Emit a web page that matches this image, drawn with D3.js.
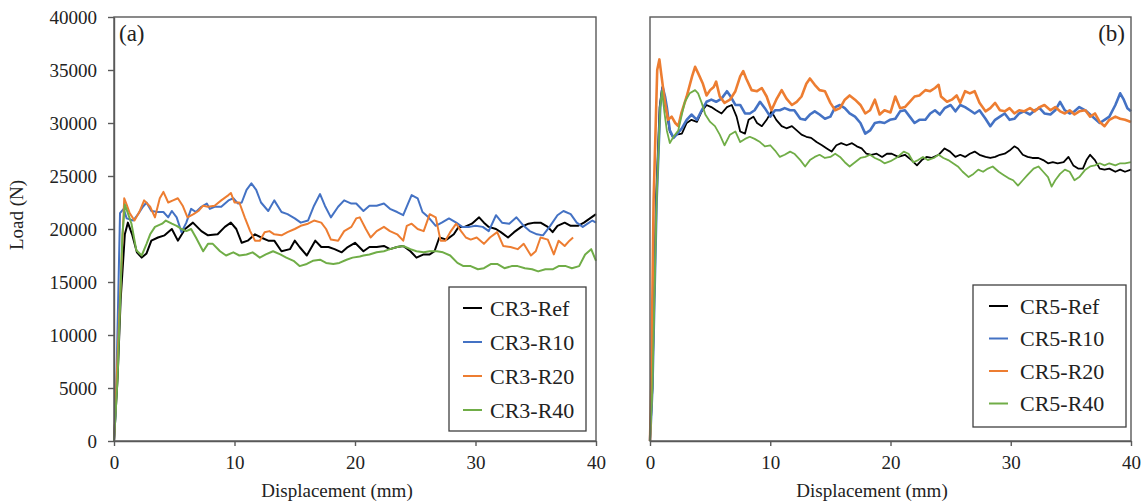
<!DOCTYPE html>
<html>
<head>
<meta charset="utf-8">
<script src="https://cdn.jsdelivr.net/npm/d3@7"></script>
<style>
  body { margin: 0; background: #fff; }
  svg { display: block; font-family: "Liberation Serif", "Times New Roman", serif; }
  .axis path, .axis line { stroke: #595959; stroke-width: 1.4; }
  .axis text { fill: #222; font-size: 19px; font-family: "Liberation Serif", "Times New Roman", serif; }
</style>
</head>
<body>
<div id="chart"></div>
<script>
// [displacement (mm), load (N)]
var cr3Ref = [[0,0],[0.3,6000],[0.55,13300],[0.9,19500],[1.15,20600],[1.5,19500],[1.9,17800],[2.3,17300],[2.7,17700],[3.1,18900],[3.65,19200],[4.2,19400],[4.8,20000],[5.3,18900],[5.9,20000],[6.55,20600],[7.25,19800],[7.8,19400],[8.6,19500],[9.2,20200],[9.7,20600],[10.15,20000],[10.6,18700],[11.1,18900],[11.7,19500],[12.2,19200],[12.8,18900],[13.3,18900],[13.9,17900],[14.6,18100],[15,18900],[15.4,18300],[16,17500],[16.7,18900],[17.2,18300],[17.8,18300],[18.3,18100],[18.9,17800],[19.4,18300],[20,18700],[20.7,17900],[21.2,18300],[21.8,18300],[22.4,18400],[22.9,18100],[23.5,18300],[24,18400],[24.6,17900],[25.1,17300],[25.7,17600],[26.2,17600],[26.6,17900],[27,19200],[27.6,19000],[28.2,19500],[28.6,20200],[29.1,20200],[29.7,20500],[30.3,21100],[30.7,20600],[31.1,20200],[31.7,20000],[32.1,19700],[32.7,19200],[33.2,19700],[33.8,20200],[34.4,20500],[34.9,20600],[35.4,20600],[36,20200],[36.4,19700],[36.8,20300],[37.4,20600],[37.9,20300],[38.5,20300],[39,20600],[39.5,21000],[40,21400]];
var cr3R10 = [[0,0],[0.15,3000],[0.5,21500],[0.8,21900],[1.05,21000],[1.6,20800],[2,21400],[2.4,22100],[2.7,22500],[3.1,21700],[3.65,21600],[4.1,21600],[4.5,21100],[4.8,21700],[5.2,21100],[5.6,19700],[6,20600],[6.4,21900],[6.8,21600],[7.25,22100],[7.7,22400],[7.95,21900],[8.35,22100],[8.9,22100],[9.5,22700],[9.9,22900],[10.3,22400],[10.6,22500],[11,23700],[11.4,24300],[11.8,23700],[12.2,22500],[12.8,21700],[13.3,22700],[13.9,21600],[14.4,21400],[15,21000],[15.5,20600],[16.1,20800],[16.6,22200],[17.1,23300],[17.5,22200],[18,21100],[18.6,22100],[19.1,22700],[19.7,22400],[20.1,22400],[20.7,21700],[21.2,22200],[21.8,22200],[22.4,22400],[22.9,21900],[23.5,21600],[24,21300],[24.4,22400],[24.7,23200],[25.2,22900],[25.6,21600],[26.1,21100],[26.7,20300],[27.2,20600],[27.8,21000],[28.4,20600],[28.9,20200],[29.5,20200],[30,20300],[30.6,20200],[31.1,19800],[31.7,21300],[32.2,20600],[32.8,20500],[33.4,21100],[34,20300],[34.5,19800],[35.1,19500],[35.6,19400],[36.2,20300],[36.8,21300],[37.3,21700],[37.9,21400],[38.4,20600],[38.9,20200],[39.3,20500],[39.7,20800],[40,20600]];
var cr3R20 = [[0,0],[0.3,8000],[0.85,22900],[1.05,22300],[1.3,21500],[1.7,20800],[2.1,21600],[2.5,22700],[3,22100],[3.4,21100],[3.8,22900],[4.1,23500],[4.5,22500],[4.9,22700],[5.3,22900],[5.7,22200],[6.1,21100],[6.6,21400],[7,21700],[7.4,22200],[7.8,22100],[8.35,22200],[8.9,22700],[9.5,23200],[9.7,23400],[10,22500],[10.4,22500],[10.85,21100],[11.3,19800],[11.7,18900],[12.1,18900],[12.5,19700],[12.9,19800],[13.3,19500],[13.9,19400],[14.4,19700],[15,20000],[15.5,20300],[16.1,20500],[16.6,20800],[17.2,20600],[17.6,20000],[18,19000],[18.6,18900],[19.1,19800],[19.7,20200],[20.1,21000],[20.4,21100],[20.9,20000],[21.3,19200],[21.8,19800],[22.4,20200],[22.9,19800],[23.5,19500],[24,18900],[24.3,20300],[24.7,20500],[25.2,20000],[25.7,19800],[26.2,21400],[26.7,21100],[27.1,18900],[27.5,18900],[27.9,19700],[28.4,20500],[28.8,19800],[29.2,19200],[29.6,19000],[30.1,19200],[30.7,18600],[31.2,19200],[31.8,19700],[32.3,18400],[32.9,18300],[33.5,18100],[34,18600],[34.6,17500],[35,17900],[35.4,19200],[36,19000],[36.5,17600],[36.9,18900],[37.4,18400],[37.8,18900],[38.1,19200]];
var cr3R40 = [[0,0],[0.3,6000],[0.7,19500],[0.9,22300],[1.15,21500],[1.45,20500],[1.85,18000],[2.3,17500],[2.7,18600],[3,19500],[3.4,20200],[4,20500],[4.3,20800],[4.8,20500],[5.2,20300],[5.6,20000],[6,19800],[6.4,20000],[6.8,19200],[7.4,17900],[7.8,18600],[8.2,18600],[8.8,17900],[9.3,17500],[9.9,17800],[10.4,17500],[11,17600],[11.5,17800],[12.1,17300],[12.6,17600],[13.2,17900],[13.8,17600],[14.3,17300],[14.9,17000],[15.4,16500],[16,16700],[16.5,17000],[17.1,17100],[17.6,16800],[18.2,16700],[18.7,16800],[19.3,17100],[19.8,17300],[20.4,17400],[20.7,17500],[21.2,17600],[21.8,17800],[22.4,17900],[22.9,18100],[23.5,18300],[24,18400],[24.6,18100],[25.1,17900],[25.7,17800],[26.2,17900],[26.8,17900],[27.3,17800],[27.9,17500],[28.5,16800],[29,16500],[29.6,16500],[30.2,16200],[30.7,16300],[31.3,16700],[31.8,16700],[32.4,16300],[33,16500],[33.5,16500],[34.1,16300],[34.7,16200],[35.2,16000],[35.8,16200],[36.4,16200],[36.9,16500],[37.5,16500],[38,16300],[38.6,16500],[39.1,17600],[39.6,18100],[40,17000]];

var cr5Ref = [[0,0],[0.2,5000],[0.5,22700],[0.8,31500],[1.0,33300],[1.2,32000],[1.4,30900],[1.65,29200],[1.95,28600],[2.2,28900],[2.65,29000],[3.05,30000],[3.45,30300],[3.9,30100],[4.3,31100],[4.7,31700],[5.1,31500],[5.5,31200],[5.95,30900],[6.4,31500],[6.8,31700],[7.2,30600],[7.5,29200],[7.9,29000],[8.2,30300],[8.6,30600],[8.9,30000],[9.3,29700],[9.7,30300],[10.1,31100],[10.5,30300],[10.95,29700],[11.35,29500],[11.8,29700],[12.2,29300],[12.6,28900],[13,28700],[13.4,28600],[13.85,28200],[14.3,27900],[14.7,27600],[15.1,27300],[15.5,27900],[15.9,28100],[16.35,27900],[16.8,28100],[17.2,27800],[17.6,27600],[18,27100],[18.4,27000],[18.85,27100],[19.3,26800],[19.7,27100],[20.1,27100],[20.65,26800],[21.2,27000],[21.75,26500],[22.2,26000],[22.6,26500],[23,26800],[23.4,26700],[24,27000],[24.5,27600],[24.95,27300],[25.4,26800],[25.8,27000],[26.2,26800],[26.6,27100],[27,27300],[27.4,27000],[27.9,26800],[28.3,26700],[28.7,26800],[29.1,27000],[29.5,27100],[29.9,27400],[30.3,27800],[30.6,27600],[31,27000],[31.4,26800],[31.8,26700],[32.3,26700],[32.7,26500],[33.1,26200],[33.5,26300],[33.9,26200],[34.4,26300],[34.8,26800],[35.2,26000],[35.6,25700],[36,25700],[36.3,26500],[36.6,27000],[37,26500],[37.4,25700],[37.8,25600],[38.2,25700],[38.7,25400],[39.1,25600],[39.5,25400],[40,25600]];
var cr5R10 = [[0,0],[0.2,5000],[0.55,22700],[0.85,31500],[1.05,33400],[1.25,32500],[1.4,31500],[1.65,29300],[1.95,28600],[2.2,28900],[2.65,29500],[3.05,30300],[3.45,30800],[3.9,30300],[4.3,31200],[4.7,32000],[5.1,32200],[5.5,32000],[5.95,32300],[6.4,33000],[6.65,32600],[7.1,31700],[7.5,31700],[7.9,30900],[8.3,30900],[8.7,31200],[9.15,32000],[9.55,31400],[10,30600],[10.4,31200],[10.8,31200],[11.2,31400],[11.65,31200],[12,31200],[12.5,30400],[12.9,30300],[13.3,30800],[13.7,31100],[14.1,30800],[14.55,30400],[15,30600],[15.4,31500],[15.8,31700],[16.2,31400],[16.6,30900],[17.05,30600],[17.5,30000],[17.9,29000],[18.3,29300],[18.7,30000],[19.1,30100],[19.5,30000],[19.95,30300],[20.4,30400],[20.8,31100],[21.2,31200],[21.6,30600],[22,30000],[22.4,30300],[22.9,30300],[23.3,30900],[23.7,31200],[24.1,30800],[24.5,31400],[25,31700],[25.4,31100],[25.8,31700],[26.2,31500],[26.6,31200],[27,30900],[27.4,31200],[27.9,30400],[28.3,29700],[28.7,30300],[29.1,30600],[29.5,30900],[29.9,30300],[30.3,30400],[30.7,30900],[31.1,31100],[31.6,30800],[32,31200],[32.4,31400],[32.8,30900],[33.3,30800],[33.7,31200],[34.1,32000],[34.5,31200],[34.9,30900],[35.3,31100],[35.7,31500],[36.2,31200],[36.6,30800],[37,30400],[37.4,30000],[37.8,30300],[38.2,30600],[38.7,31700],[39.1,32800],[39.4,32200],[39.7,31400],[40,31100]];
var cr5R20 = [[0,0],[0.1,5000],[0.3,22700],[0.6,35000],[0.78,36000],[0.95,34500],[1.25,31900],[1.5,30300],[1.8,30600],[2.1,30000],[2.35,29700],[2.6,30900],[3.05,32500],[3.5,34400],[3.75,35300],[4,34700],[4.4,33700],[4.7,32600],[5,33100],[5.3,33400],[5.5,33900],[5.8,32500],[6.2,31900],[6.65,32200],[7.1,33000],[7.5,34400],[7.75,34900],[8,34200],[8.45,33100],[8.9,33000],[9.3,33300],[9.7,32500],[10.1,31200],[10.5,32200],[10.95,33100],[11.35,32300],[11.8,31700],[12.2,32000],[12.6,32500],[13,33700],[13.3,34200],[13.7,33600],[14.1,33100],[14.55,33000],[15,31900],[15.4,31200],[15.8,31400],[16.2,32200],[16.6,32600],[17.05,32200],[17.5,31700],[17.9,30900],[18.3,31200],[18.7,32200],[19.1,30800],[19.5,31200],[20,31000],[20.4,32500],[20.8,31400],[21.2,31500],[21.6,32000],[22,32500],[22.4,32600],[22.9,33100],[23.3,33000],[23.7,33300],[24,33600],[24.2,32500],[24.7,32000],[25.1,32200],[25.5,32600],[25.8,31900],[26.2,33000],[26.6,32800],[27,33000],[27.4,31900],[27.9,31100],[28.3,31400],[28.7,31900],[29.1,31200],[29.5,31100],[29.9,31400],[30.3,30900],[30.7,31200],[31.1,31100],[31.6,31400],[32,31100],[32.4,31500],[32.8,31700],[33.3,31200],[33.7,31500],[34.1,31100],[34.5,30900],[34.9,31200],[35.3,30800],[35.7,31100],[36.2,31200],[36.6,30600],[37,30900],[37.4,30100],[37.8,29700],[38.2,30300],[38.7,30600],[39.1,30400],[39.5,30300],[40,30100]];
var cr5R40 = [[0,0],[0.2,5000],[0.55,22700],[0.85,31500],[1.0,33000],[1.2,31000],[1.4,29300],[1.65,28100],[1.95,28700],[2.35,29300],[2.65,30800],[2.9,32000],[3.3,32800],[3.75,33100],[4,32800],[4.3,31900],[4.6,30800],[5,30100],[5.4,29700],[5.8,28900],[6.2,27900],[6.65,28900],[7.1,29200],[7.5,28200],[7.9,28500],[8.3,28700],[8.7,28500],[9.15,28200],[9.55,27800],[10,27900],[10.4,27400],[10.8,26800],[11.2,27000],[11.65,27300],[12,27100],[12.5,26500],[12.9,25900],[13.3,26500],[13.7,26800],[14.1,27000],[14.55,26700],[15,26800],[15.4,27100],[15.8,26800],[16.2,26300],[16.6,25900],[17.05,26300],[17.5,26700],[17.9,26800],[18.3,27000],[18.7,26700],[19.1,26500],[19.5,26200],[20,26400],[20.6,26800],[21.1,27300],[21.5,27100],[21.9,26300],[22.3,26500],[22.7,26800],[23.1,26500],[23.6,26700],[24,27000],[24.4,26700],[24.8,26500],[25.2,26200],[25.6,25900],[26,25400],[26.5,24900],[26.9,25200],[27.3,25600],[27.7,25400],[28.1,25700],[28.5,25900],[29,25400],[29.4,25100],[29.8,24800],[30.2,24600],[30.6,24100],[31,24600],[31.4,25100],[31.9,25700],[32.3,25900],[32.7,25400],[33.1,24900],[33.4,24000],[33.7,24600],[34.1,25200],[34.5,25600],[34.9,25400],[35.3,24600],[35.7,24900],[36.2,25600],[36.6,25900],[37,26000],[37.4,26200],[37.8,26000],[38.2,26200],[38.7,26000],[39.1,26200],[39.5,26200],[40,26300]];

var xTicks = [0, 10, 20, 30, 40];
var yTicks = [0, 5000, 10000, 15000, 20000, 25000, 30000, 35000, 40000];
var namesA = ["CR3-Ref", "CR3-R10", "CR3-R20", "CR3-R40"];
var namesB = ["CR5-Ref", "CR5-R10", "CR5-R20", "CR5-R40"];
var colors = ["#000000", "#4472C4", "#ED7D31", "#70AD47"];

function init() {
    var w = 1143, h = 504;
    var plotTop = 17, plotBottom = 441;
    var font = '"Liberation Serif", "Times New Roman", serif';

    var svg = d3.select("#chart").append("svg")
        .attr("width", w)
        .attr("height", h);

    var y = d3.scaleLinear().domain([0, 40000]).range([plotBottom, plotTop]);

    var panels = [
        { left: 114, right: 596, tag: "(a)", tagX: 119, tagAnchor: "start", names: namesA,
          series: [cr3Ref, cr3R10, cr3R20, cr3R40], yLabels: true, xLabel: 337,
          legend: { x: 449, y: 287, w: 137, h: 144, lineX: 463, textX: 490, step: 34 } },
        { left: 650, right: 1131, tag: "(b)", tagX: 1125, tagAnchor: "end", names: namesB,
          series: [cr5Ref, cr5R10, cr5R20, cr5R40], yLabels: false, xLabel: 872,
          legend: { x: 973, y: 285, w: 153, h: 142, lineX: 989, textX: 1020, step: 32.5 } }
    ];

    panels.forEach(function(p) {
        var x = d3.scaleLinear().domain([0, 40]).range([p.left, p.right]);
        var g = svg.append("g");

        var line = d3.line()
            .x(function(d) { return x(d[0]); })
            .y(function(d) { return y(d[1]); });

        g.selectAll("path.series")
            .data(p.series)
            .enter()
            .append("path")
            .attr("class", "series")
            .attr("fill", "none")
            .attr("stroke", function(d, i) { return colors[i]; })
            .attr("stroke-width", function(d, i) { return p.yLabels ? 2 : (i == 1 || i == 2 ? 2.6 : 1.8); })
            .attr("stroke-linejoin", "round")
            .attr("d", line);

        // frame
        g.append("rect")
            .attr("x", p.left)
            .attr("y", plotTop)
            .attr("width", p.right - p.left)
            .attr("height", plotBottom - plotTop)
            .attr("fill", "none")
            .attr("stroke", "#595959")
            .attr("stroke-width", 1.4);

        g.append("g")
            .attr("class", "axis")
            .attr("transform", "translate(0," + plotBottom + ")")
            .call(d3.axisBottom(x).tickValues(xTicks).tickSize(5).tickPadding(10).tickSizeOuter(0));

        if (p.yLabels) {
            g.append("g")
                .attr("class", "axis")
                .attr("transform", "translate(" + p.left + ",0)")
                .call(d3.axisLeft(y).tickValues(yTicks).tickSize(6).tickPadding(11).tickSizeOuter(0)
                    .tickFormat(d3.format("d")));
        }

        g.append("text")
            .attr("x", p.tagX)
            .attr("y", 41)
            .attr("text-anchor", p.tagAnchor)
            .attr("font-size", 23)
            .attr("font-family", font)
            .attr("fill", "#222")
            .text(p.tag);

        g.append("text")
            .attr("x", p.xLabel)
            .attr("y", 497)
            .attr("text-anchor", "middle")
            .attr("font-size", 19)
            .attr("font-family", font)
            .attr("fill", "#222")
            .text("Displacement (mm)");

        // legend
        var L = p.legend;
        g.append("rect")
            .attr("x", L.x)
            .attr("y", L.y)
            .attr("width", L.w)
            .attr("height", L.h)
            .attr("fill", "#fff")
            .attr("stroke", "#404040")
            .attr("stroke-width", 1.3);

        var items = g.selectAll("g.leg")
            .data(p.names)
            .enter()
            .append("g")
            .attr("class", "leg")
            .attr("transform", function(d, i) { return "translate(0," + (L.y + 21 + i * L.step) + ")"; });

        items.append("line")
            .attr("x1", L.lineX)
            .attr("x2", L.lineX + 19)
            .attr("stroke", function(d, i) { return colors[i]; })
            .attr("stroke-width", 2);

        items.append("text")
            .attr("x", L.textX)
            .attr("dy", "0.35em")
            .attr("font-size", 22)
            .attr("font-family", font)
            .attr("fill", "#222")
            .text(function(d) { return d; });
    });

    svg.append("text")
        .attr("transform", "translate(23,215) rotate(-90)")
        .attr("text-anchor", "middle")
        .attr("font-size", 19)
        .attr("font-family", font)
        .attr("fill", "#222")
        .text("Load (N)");
}
window.onload = init;
</script>
</body>
</html>
